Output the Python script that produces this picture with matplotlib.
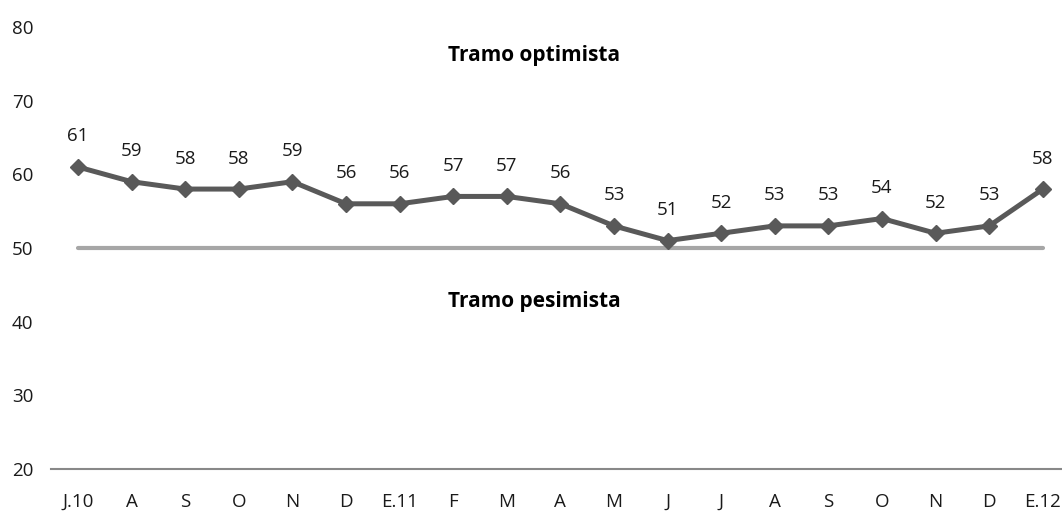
import matplotlib.pyplot as plt

# data
months = ['J.10', 'A', 'S', 'O', 'N', 'D', 'E.11', 'F', 'M', 'A', 'M', 'J',
          'J', 'A', 'S', 'O', 'N', 'D', 'E.12']
values = [61, 59, 58, 58, 59, 56, 56, 57, 57, 56, 53, 51, 52, 53, 53, 54, 52, 53, 58]
threshold = [50] * len(months)
yticks = [20, 30, 40, 50, 60, 70, 80]

plt.rcParams['font.family'] = ['Open Sans', 'DejaVu Sans']

W, H = 1062, 511
fig = plt.figure(figsize=(W / 100, H / 100), dpi=100)
step = 53.6
left_px = 78 - step / 2
ax = fig.add_axes([left_px / W, 42 / H, (W - left_px) / W, 442 / H])

x = list(range(len(months)))
ax.plot(x, threshold, color='#a6a6a6', linewidth=3, solid_capstyle='round', zorder=2)
ax.plot(x, values, color='#595959', linewidth=3.6, marker='D', markersize=8.5, zorder=3)

for xi, v in zip(x, values):
    ax.annotate(str(v), (xi, v), xytext=(0, 22), textcoords='offset points',
                ha='center', va='center', fontsize=13.5, color='#1a1a1a')

# zone labels, centred on the figure
fig.text(0.503, 1 - 56 / H, 'Tramo optimista', ha='center', va='center',
         fontsize=15, fontweight='bold', color='black')
fig.text(0.503, 1 - 301 / H, 'Tramo pesimista', ha='center', va='center',
         fontsize=15, fontweight='bold', color='black')

ax.set_xlim(-0.5, -0.5 + (W - left_px) / step)
ax.set_ylim(20, 80)
ax.set_xticks(x)
ax.set_xticklabels(months)
ax.set_yticks(yticks)
ax.tick_params(axis='both', length=0, labelsize=13.5, colors='#1a1a1a')
ax.tick_params(axis='x', pad=17)
ax.tick_params(axis='y', pad=13)

for s in ['top', 'right', 'left']:
    ax.spines[s].set_visible(False)
ax.spines['bottom'].set_color('#888888')
ax.spines['bottom'].set_linewidth(1.5)

fig.savefig('out.png', dpi=100, facecolor='white')
